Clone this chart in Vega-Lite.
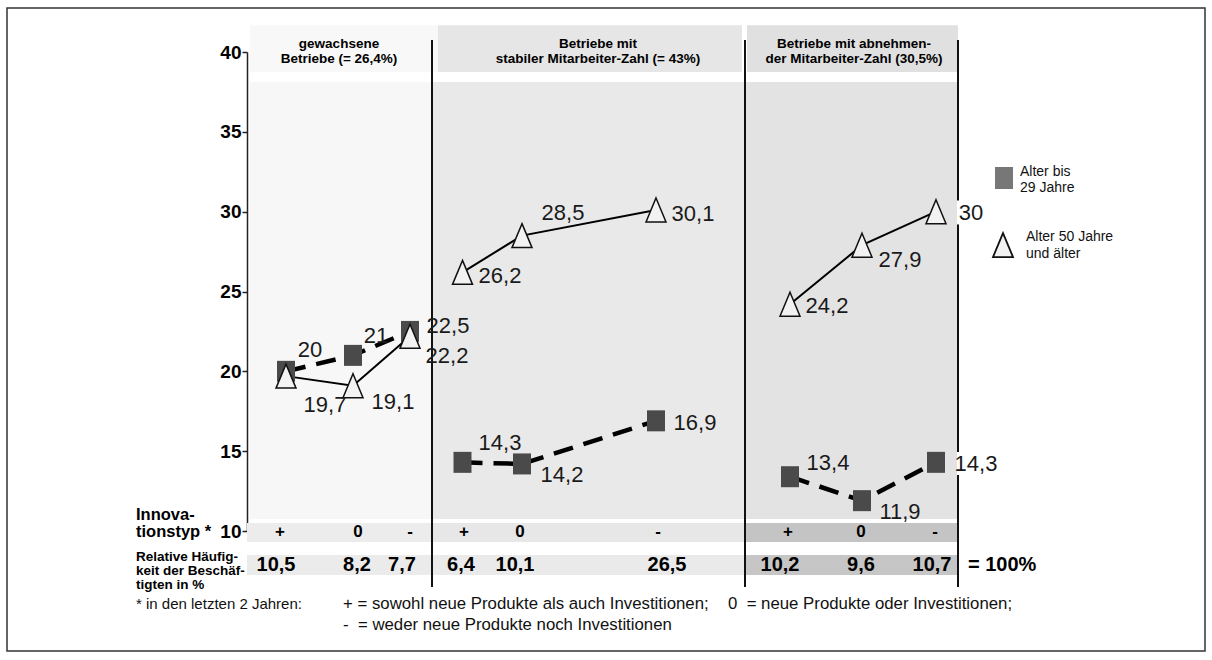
{
  "$schema": "https://vega.github.io/schema/vega-lite/v6.json",
  "width": 960,
  "height": 479,
  "autosize": {"type": "none"},
  "padding": {"left": 247, "top": 52, "right": 5, "bottom": 129},
  "background": "white",
  "config": {"view": {"stroke": null}, "font": "Liberation Sans"},
  "datasets": {
    "frame": [{"x0": -24, "x1": 95.8, "y0": 2.48, "y1": 42.76}],
    "boxes": [
      {"kind": "bg1", "x0": 0.3, "x1": 18.5, "y0": 10.75, "y1": 38.12},
      {"kind": "bg2", "x0": 18.5, "x1": 49.8, "y0": 10.75, "y1": 38.12},
      {"kind": "bg3", "x0": 49.8, "x1": 71.1, "y0": 10.75, "y1": 38.12},
      {"kind": "hd1", "x0": 0.3, "x1": 19.1, "y0": 38.74, "y1": 41.68},
      {"kind": "hd2", "x0": 19.1, "x1": 49.5, "y0": 38.74, "y1": 41.68},
      {"kind": "hd3", "x0": 50.0, "x1": 71.1, "y0": 38.74, "y1": 41.68},
      {"kind": "in1", "x0": 0.0, "x1": 18.5, "y0": 9.31, "y1": 10.5},
      {"kind": "in2", "x0": 18.5, "x1": 49.8, "y0": 9.31, "y1": 10.5},
      {"kind": "in3", "x0": 49.8, "x1": 71.1, "y0": 9.31, "y1": 10.5},
      {"kind": "fr1", "x0": 0.0, "x1": 18.5, "y0": 7.24, "y1": 8.5},
      {"kind": "fr2", "x0": 18.5, "x1": 49.8, "y0": 7.24, "y1": 8.5},
      {"kind": "fr3", "x0": 49.8, "x1": 71.1, "y0": 7.24, "y1": 8.5}
    ],
    "dividers": [{"x": 18.5}, {"x": 49.8}, {"x": 71.1}],
    "labelBg": [
      {"x0": 71.0, "x1": 73.9, "y0": 29.2, "y1": 30.7},
      {"x0": 71.0, "x1": 75.3, "y0": 13.5, "y1": 14.95}
    ],
    "pts": [
      {"panel": "A", "innov": "+", "g": "jung", "pos": 3.9, "value": 20, "label": "20", "lx": 6.3, "ly": 21.34},
      {"panel": "A", "innov": "0", "g": "jung", "pos": 10.6, "value": 21, "label": "21", "lx": 12.9, "ly": 22.21},
      {"panel": "A", "innov": "-", "g": "jung", "pos": 16.3, "value": 22.5, "label": "22,5", "lx": 20.1, "ly": 22.84},
      {"panel": "B", "innov": "+", "g": "jung", "pos": 21.55, "value": 14.3, "label": "14,3", "lx": 25.3, "ly": 15.51},
      {"panel": "B", "innov": "0", "g": "jung", "pos": 27.5, "value": 14.2, "label": "14,2", "lx": 31.5, "ly": 13.51},
      {"panel": "B", "innov": "-", "g": "jung", "pos": 40.9, "value": 16.9, "label": "16,9", "lx": 44.8, "ly": 16.76},
      {"panel": "C", "innov": "+", "g": "jung", "pos": 54.3, "value": 13.4, "label": "13,4", "lx": 58.1, "ly": 14.26},
      {"panel": "C", "innov": "0", "g": "jung", "pos": 61.5, "value": 11.9, "label": "11,9", "lx": 65.3, "ly": 11.19},
      {"panel": "C", "innov": "-", "g": "jung", "pos": 68.9, "value": 14.3, "label": "14,3", "lx": 72.9, "ly": 14.22},
      {"panel": "A", "innov": "+", "g": "alt", "pos": 3.9, "value": 19.7, "label": "19,7", "lx": 7.8, "ly": 17.89},
      {"panel": "A", "innov": "0", "g": "alt", "pos": 10.6, "value": 19.1, "label": "19,1", "lx": 14.6, "ly": 18.08},
      {"panel": "A", "innov": "-", "g": "alt", "pos": 16.3, "value": 22.2, "label": "22,2", "lx": 20.0, "ly": 20.96},
      {"panel": "B", "innov": "+", "g": "alt", "pos": 21.55, "value": 26.2, "label": "26,2", "lx": 25.3, "ly": 25.97},
      {"panel": "B", "innov": "0", "g": "alt", "pos": 27.5, "value": 28.5, "label": "28,5", "lx": 31.6, "ly": 29.92},
      {"panel": "B", "innov": "-", "g": "alt", "pos": 40.9, "value": 30.1, "label": "30,1", "lx": 44.6, "ly": 29.85},
      {"panel": "C", "innov": "+", "g": "alt", "pos": 54.3, "value": 24.2, "label": "24,2", "lx": 58.0, "ly": 24.09},
      {"panel": "C", "innov": "0", "g": "alt", "pos": 61.5, "value": 27.9, "label": "27,9", "lx": 65.3, "ly": 26.97},
      {"panel": "C", "innov": "-", "g": "alt", "pos": 68.9, "value": 30, "label": "30", "lx": 72.4, "ly": 29.92}
    ],
    "cols": [
      {"panel": "A", "innov": "+", "sx": 3.3, "fx": 2.9, "share": "10,5"},
      {"panel": "A", "innov": "0", "sx": 11.1, "fx": 11.0, "share": "8,2"},
      {"panel": "A", "innov": "-", "sx": 16.3, "fx": 15.5, "share": "7,7"},
      {"panel": "B", "innov": "+", "sx": 21.7, "fx": 21.4, "share": "6,4"},
      {"panel": "B", "innov": "0", "sx": 27.3, "fx": 26.8, "share": "10,1"},
      {"panel": "B", "innov": "-", "sx": 41.1, "fx": 42.0, "share": "26,5"},
      {"panel": "C", "innov": "+", "sx": 54.1, "fx": 53.3, "share": "10,2"},
      {"panel": "C", "innov": "0", "sx": 61.4, "fx": 61.4, "share": "9,6"},
      {"panel": "C", "innov": "-", "sx": 68.8, "fx": 68.5, "share": "10,7"}
    ],
    "headers": [
      {"x": 9.2, "y": 40.5, "t": "gewachsene"},
      {"x": 9.2, "y": 39.56, "t": "Betriebe (= 26,4%)"},
      {"x": 35.1, "y": 40.5, "t": "Betriebe mit"},
      {"x": 35.1, "y": 39.56, "t": "stabiler Mitarbeiter-Zahl (= 43%)"},
      {"x": 60.7, "y": 40.5, "t": "Betriebe mit abnehmen-"},
      {"x": 60.7, "y": 39.56, "t": "der Mitarbeiter-Zahl (30,5%)"}
    ],
    "leftBig": [
      {"x": -11.1, "y": 11.0, "t": "Innova-"},
      {"x": -11.1, "y": 9.94, "t": "tionstyp *"}
    ],
    "leftSmall": [
      {"x": -11.1, "y": 8.37, "t": "Relative Häufig-"},
      {"x": -11.1, "y": 7.5, "t": "keit der Beschäf-"},
      {"x": -11.1, "y": 6.62, "t": "tigten in %"}
    ],
    "footA": [
      {"x": -11.1, "y": 5.43, "t": "* in den letzten 2 Jahren:"}
    ],
    "footB": [
      {"x": 9.6, "y": 5.43, "t": "+ = sowohl neue Produkte als auch Investitionen;"},
      {"x": 48.1, "y": 5.43, "t": "0 \u00a0= neue Produkte oder Investitionen;"},
      {"x": 9.6, "y": 4.11, "t": "- \u00a0= weder neue Produkte noch Investitionen"}
    ],
    "legendSym": [
      {"x": 75.7, "y": 32.11, "g": "jung"},
      {"x": 75.6, "y": 27.91, "g": "alt"}
    ],
    "legendText": [
      {"x": 77.3, "y": 32.48, "t": "Alter bis"},
      {"x": 77.3, "y": 31.48, "t": "29 Jahre"},
      {"x": 77.9, "y": 28.41, "t": "Alter 50 Jahre"},
      {"x": 77.9, "y": 27.35, "t": "und älter"}
    ],
    "total": [{"x": 72.1, "y": 7.87, "t": "= 100%"}]
  },
  "layer": [
    {
      "data": {"name": "frame"},
      "mark": {"type": "rect", "filled": false, "stroke": "#333333", "strokeWidth": 1.5},
      "encoding": {
        "x": {"field": "x0", "type": "quantitative", "scale": {"domain": [0, 96], "nice": false, "zero": false}, "axis": null},
        "x2": {"field": "x1"},
        "y": {"field": "y0", "type": "quantitative", "scale": {"domain": [10, 40], "nice": false, "zero": false}, "axis": {"values": [10, 15, 20, 25, 30, 35, 40], "title": null, "grid": false, "labelFont": "Liberation Sans", "labelFontWeight": "bold", "labelFontSize": 19, "labelColor": "#000000", "domainColor": "#222222", "domainWidth": 1.5, "tickColor": "#222222", "tickWidth": 1.5, "tickSize": 5, "labelPadding": 1}},
        "y2": {"field": "y1"}
      }
    },
    {
      "data": {"name": "boxes"},
      "mark": {"type": "rect"},
      "encoding": {
        "x": {"field": "x0", "type": "quantitative", "scale": {"domain": [0, 96], "nice": false, "zero": false}, "axis": null},
        "x2": {"field": "x1"},
        "y": {"field": "y0", "type": "quantitative", "scale": {"domain": [10, 40], "nice": false, "zero": false}, "axis": {"values": [10, 15, 20, 25, 30, 35, 40], "title": null, "grid": false, "labelFont": "Liberation Sans", "labelFontWeight": "bold", "labelFontSize": 19, "labelColor": "#000000", "domainColor": "#222222", "domainWidth": 1.5, "tickColor": "#222222", "tickWidth": 1.5, "tickSize": 5, "labelPadding": 1}},
        "y2": {"field": "y1"},
        "color": {
          "field": "kind", "type": "nominal", "legend": null,
          "scale": {
            "domain": ["bg1", "bg2", "bg3", "hd1", "hd2", "hd3", "in1", "in2", "in3", "fr1", "fr2", "fr3"],
            "range": ["#f7f7f7", "#e9e9e9", "#e3e3e3", "#f8f8f8", "#e6e6e6", "#e0e0e0", "#ececec", "#e7e7e7", "#c4c4c4", "#ebebeb", "#eaeaea", "#c6c6c6"]
          }
        }
      }
    },
    {
      "data": {"name": "dividers"},
      "mark": {"type": "rule", "color": "#111111", "strokeWidth": 2},
      "encoding": {
        "x": {"field": "x", "type": "quantitative", "scale": {"domain": [0, 96], "nice": false, "zero": false}, "axis": null},
        "y": {"datum": 6.5, "type": "quantitative", "scale": {"domain": [10, 40], "nice": false, "zero": false}, "axis": {"values": [10, 15, 20, 25, 30, 35, 40], "title": null, "grid": false, "labelFont": "Liberation Sans", "labelFontWeight": "bold", "labelFontSize": 19, "labelColor": "#000000", "domainColor": "#222222", "domainWidth": 1.5, "tickColor": "#222222", "tickWidth": 1.5, "tickSize": 5, "labelPadding": 1}},
        "y2": {"datum": 40.75}
      }
    },
    {
      "data": {"name": "labelBg"},
      "mark": {"type": "rect", "color": "#ffffff"},
      "encoding": {
        "x": {"field": "x0", "type": "quantitative", "scale": {"domain": [0, 96], "nice": false, "zero": false}, "axis": null},
        "x2": {"field": "x1"},
        "y": {"field": "y0", "type": "quantitative", "scale": {"domain": [10, 40], "nice": false, "zero": false}, "axis": {"values": [10, 15, 20, 25, 30, 35, 40], "title": null, "grid": false, "labelFont": "Liberation Sans", "labelFontWeight": "bold", "labelFontSize": 19, "labelColor": "#000000", "domainColor": "#222222", "domainWidth": 1.5, "tickColor": "#222222", "tickWidth": 1.5, "tickSize": 5, "labelPadding": 1}},
        "y2": {"field": "y1"}
      }
    },
    {
      "data": {"name": "pts"},
      "transform": [{"filter": "datum.g == 'jung'"}],
      "mark": {"type": "line", "color": "#000000", "strokeWidth": 4.5, "strokeDash": [20, 11]},
      "encoding": {
        "x": {"field": "pos", "type": "quantitative", "scale": {"domain": [0, 96], "nice": false, "zero": false}, "axis": null},
        "y": {"field": "value", "type": "quantitative", "scale": {"domain": [10, 40], "nice": false, "zero": false}, "axis": {"values": [10, 15, 20, 25, 30, 35, 40], "title": null, "grid": false, "labelFont": "Liberation Sans", "labelFontWeight": "bold", "labelFontSize": 19, "labelColor": "#000000", "domainColor": "#222222", "domainWidth": 1.5, "tickColor": "#222222", "tickWidth": 1.5, "tickSize": 5, "labelPadding": 1}},
        "detail": {"field": "panel"}
      }
    },
    {
      "data": {"name": "pts"},
      "transform": [{"filter": "datum.g == 'alt'"}],
      "mark": {"type": "line", "color": "#000000", "strokeWidth": 2},
      "encoding": {
        "x": {"field": "pos", "type": "quantitative", "scale": {"domain": [0, 96], "nice": false, "zero": false}, "axis": null},
        "y": {"field": "value", "type": "quantitative", "scale": {"domain": [10, 40], "nice": false, "zero": false}, "axis": {"values": [10, 15, 20, 25, 30, 35, 40], "title": null, "grid": false, "labelFont": "Liberation Sans", "labelFontWeight": "bold", "labelFontSize": 19, "labelColor": "#000000", "domainColor": "#222222", "domainWidth": 1.5, "tickColor": "#222222", "tickWidth": 1.5, "tickSize": 5, "labelPadding": 1}},
        "detail": {"field": "panel"}
      }
    },
    {
      "data": {"name": "pts"},
      "transform": [{"filter": "datum.g == 'jung'"}],
      "mark": {"type": "point", "filled": true, "shape": "M-0.9,-1.05L0.9,-1.05L0.9,1.05L-0.9,1.05Z", "size": 400, "color": "#4a4a4a", "opacity": 1},
      "encoding": {
        "x": {"field": "pos", "type": "quantitative", "scale": {"domain": [0, 96], "nice": false, "zero": false}, "axis": null},
        "y": {"field": "value", "type": "quantitative", "scale": {"domain": [10, 40], "nice": false, "zero": false}, "axis": {"values": [10, 15, 20, 25, 30, 35, 40], "title": null, "grid": false, "labelFont": "Liberation Sans", "labelFontWeight": "bold", "labelFontSize": 19, "labelColor": "#000000", "domainColor": "#222222", "domainWidth": 1.5, "tickColor": "#222222", "tickWidth": 1.5, "tickSize": 5, "labelPadding": 1}}
      }
    },
    {
      "data": {"name": "pts"},
      "transform": [{"filter": "datum.g == 'alt'"}],
      "mark": {"type": "point", "shape": "M0,-1.2L1,1.2L-1,1.2Z", "size": 400, "fill": "#f2f2f2", "stroke": "#111111", "strokeWidth": 1.5, "opacity": 1, "fillOpacity": 1},
      "encoding": {
        "x": {"field": "pos", "type": "quantitative", "scale": {"domain": [0, 96], "nice": false, "zero": false}, "axis": null},
        "y": {"field": "value", "type": "quantitative", "scale": {"domain": [10, 40], "nice": false, "zero": false}, "axis": {"values": [10, 15, 20, 25, 30, 35, 40], "title": null, "grid": false, "labelFont": "Liberation Sans", "labelFontWeight": "bold", "labelFontSize": 19, "labelColor": "#000000", "domainColor": "#222222", "domainWidth": 1.5, "tickColor": "#222222", "tickWidth": 1.5, "tickSize": 5, "labelPadding": 1}}
      }
    },
    {
      "data": {"name": "pts"},
      "mark": {"type": "text", "font": "Liberation Sans", "fontSize": 22, "color": "#1a1a1a", "align": "center", "baseline": "middle"},
      "encoding": {
        "x": {"field": "lx", "type": "quantitative", "scale": {"domain": [0, 96], "nice": false, "zero": false}, "axis": null},
        "y": {"field": "ly", "type": "quantitative", "scale": {"domain": [10, 40], "nice": false, "zero": false}, "axis": {"values": [10, 15, 20, 25, 30, 35, 40], "title": null, "grid": false, "labelFont": "Liberation Sans", "labelFontWeight": "bold", "labelFontSize": 19, "labelColor": "#000000", "domainColor": "#222222", "domainWidth": 1.5, "tickColor": "#222222", "tickWidth": 1.5, "tickSize": 5, "labelPadding": 1}},
        "text": {"field": "label"}
      }
    },
    {
      "data": {"name": "cols"},
      "mark": {"type": "text", "font": "Liberation Sans", "fontSize": 17, "fontWeight": "bold", "color": "#000000", "align": "center", "baseline": "middle"},
      "encoding": {
        "x": {"field": "sx", "type": "quantitative", "scale": {"domain": [0, 96], "nice": false, "zero": false}, "axis": null},
        "y": {"datum": 9.94, "type": "quantitative", "scale": {"domain": [10, 40], "nice": false, "zero": false}, "axis": {"values": [10, 15, 20, 25, 30, 35, 40], "title": null, "grid": false, "labelFont": "Liberation Sans", "labelFontWeight": "bold", "labelFontSize": 19, "labelColor": "#000000", "domainColor": "#222222", "domainWidth": 1.5, "tickColor": "#222222", "tickWidth": 1.5, "tickSize": 5, "labelPadding": 1}},
        "text": {"field": "innov"}
      }
    },
    {
      "data": {"name": "cols"},
      "mark": {"type": "text", "font": "Liberation Sans", "fontSize": 20, "fontWeight": "bold", "color": "#000000", "align": "center", "baseline": "middle"},
      "encoding": {
        "x": {"field": "fx", "type": "quantitative", "scale": {"domain": [0, 96], "nice": false, "zero": false}, "axis": null},
        "y": {"datum": 7.87, "type": "quantitative", "scale": {"domain": [10, 40], "nice": false, "zero": false}, "axis": {"values": [10, 15, 20, 25, 30, 35, 40], "title": null, "grid": false, "labelFont": "Liberation Sans", "labelFontWeight": "bold", "labelFontSize": 19, "labelColor": "#000000", "domainColor": "#222222", "domainWidth": 1.5, "tickColor": "#222222", "tickWidth": 1.5, "tickSize": 5, "labelPadding": 1}},
        "text": {"field": "share"}
      }
    },
    {
      "data": {"name": "total"},
      "mark": {"type": "text", "font": "Liberation Sans", "fontSize": 20, "fontWeight": "bold", "color": "#000000", "align": "left", "baseline": "middle"},
      "encoding": {
        "x": {"field": "x", "type": "quantitative", "scale": {"domain": [0, 96], "nice": false, "zero": false}, "axis": null},
        "y": {"field": "y", "type": "quantitative", "scale": {"domain": [10, 40], "nice": false, "zero": false}, "axis": {"values": [10, 15, 20, 25, 30, 35, 40], "title": null, "grid": false, "labelFont": "Liberation Sans", "labelFontWeight": "bold", "labelFontSize": 19, "labelColor": "#000000", "domainColor": "#222222", "domainWidth": 1.5, "tickColor": "#222222", "tickWidth": 1.5, "tickSize": 5, "labelPadding": 1}},
        "text": {"field": "t"}
      }
    },
    {
      "data": {"name": "headers"},
      "mark": {"type": "text", "font": "Liberation Sans", "fontSize": 13.5, "fontWeight": "bold", "color": "#000000", "align": "center", "baseline": "middle"},
      "encoding": {
        "x": {"field": "x", "type": "quantitative", "scale": {"domain": [0, 96], "nice": false, "zero": false}, "axis": null},
        "y": {"field": "y", "type": "quantitative", "scale": {"domain": [10, 40], "nice": false, "zero": false}, "axis": {"values": [10, 15, 20, 25, 30, 35, 40], "title": null, "grid": false, "labelFont": "Liberation Sans", "labelFontWeight": "bold", "labelFontSize": 19, "labelColor": "#000000", "domainColor": "#222222", "domainWidth": 1.5, "tickColor": "#222222", "tickWidth": 1.5, "tickSize": 5, "labelPadding": 1}},
        "text": {"field": "t"}
      }
    },
    {
      "data": {"name": "leftBig"},
      "mark": {"type": "text", "font": "Liberation Sans", "fontSize": 16.5, "fontWeight": "bold", "color": "#000000", "align": "left", "baseline": "middle"},
      "encoding": {
        "x": {"field": "x", "type": "quantitative", "scale": {"domain": [0, 96], "nice": false, "zero": false}, "axis": null},
        "y": {"field": "y", "type": "quantitative", "scale": {"domain": [10, 40], "nice": false, "zero": false}, "axis": {"values": [10, 15, 20, 25, 30, 35, 40], "title": null, "grid": false, "labelFont": "Liberation Sans", "labelFontWeight": "bold", "labelFontSize": 19, "labelColor": "#000000", "domainColor": "#222222", "domainWidth": 1.5, "tickColor": "#222222", "tickWidth": 1.5, "tickSize": 5, "labelPadding": 1}},
        "text": {"field": "t"}
      }
    },
    {
      "data": {"name": "leftSmall"},
      "mark": {"type": "text", "font": "Liberation Sans", "fontSize": 13.5, "fontWeight": "bold", "color": "#000000", "align": "left", "baseline": "middle"},
      "encoding": {
        "x": {"field": "x", "type": "quantitative", "scale": {"domain": [0, 96], "nice": false, "zero": false}, "axis": null},
        "y": {"field": "y", "type": "quantitative", "scale": {"domain": [10, 40], "nice": false, "zero": false}, "axis": {"values": [10, 15, 20, 25, 30, 35, 40], "title": null, "grid": false, "labelFont": "Liberation Sans", "labelFontWeight": "bold", "labelFontSize": 19, "labelColor": "#000000", "domainColor": "#222222", "domainWidth": 1.5, "tickColor": "#222222", "tickWidth": 1.5, "tickSize": 5, "labelPadding": 1}},
        "text": {"field": "t"}
      }
    },
    {
      "data": {"name": "footA"},
      "mark": {"type": "text", "font": "Liberation Sans", "fontSize": 15, "color": "#111111", "align": "left", "baseline": "middle"},
      "encoding": {
        "x": {"field": "x", "type": "quantitative", "scale": {"domain": [0, 96], "nice": false, "zero": false}, "axis": null},
        "y": {"field": "y", "type": "quantitative", "scale": {"domain": [10, 40], "nice": false, "zero": false}, "axis": {"values": [10, 15, 20, 25, 30, 35, 40], "title": null, "grid": false, "labelFont": "Liberation Sans", "labelFontWeight": "bold", "labelFontSize": 19, "labelColor": "#000000", "domainColor": "#222222", "domainWidth": 1.5, "tickColor": "#222222", "tickWidth": 1.5, "tickSize": 5, "labelPadding": 1}},
        "text": {"field": "t"}
      }
    },
    {
      "data": {"name": "footB"},
      "mark": {"type": "text", "font": "Liberation Sans", "fontSize": 16.8, "color": "#111111", "align": "left", "baseline": "middle"},
      "encoding": {
        "x": {"field": "x", "type": "quantitative", "scale": {"domain": [0, 96], "nice": false, "zero": false}, "axis": null},
        "y": {"field": "y", "type": "quantitative", "scale": {"domain": [10, 40], "nice": false, "zero": false}, "axis": {"values": [10, 15, 20, 25, 30, 35, 40], "title": null, "grid": false, "labelFont": "Liberation Sans", "labelFontWeight": "bold", "labelFontSize": 19, "labelColor": "#000000", "domainColor": "#222222", "domainWidth": 1.5, "tickColor": "#222222", "tickWidth": 1.5, "tickSize": 5, "labelPadding": 1}},
        "text": {"field": "t"}
      }
    },
    {
      "data": {"name": "legendSym"},
      "transform": [{"filter": "datum.g == 'jung'"}],
      "mark": {"type": "point", "filled": true, "shape": "M-0.9,-1.1L0.9,-1.1L0.9,1.1L-0.9,1.1Z", "size": 400, "color": "#777777", "opacity": 1},
      "encoding": {
        "x": {"field": "x", "type": "quantitative", "scale": {"domain": [0, 96], "nice": false, "zero": false}, "axis": null},
        "y": {"field": "y", "type": "quantitative", "scale": {"domain": [10, 40], "nice": false, "zero": false}, "axis": {"values": [10, 15, 20, 25, 30, 35, 40], "title": null, "grid": false, "labelFont": "Liberation Sans", "labelFontWeight": "bold", "labelFontSize": 19, "labelColor": "#000000", "domainColor": "#222222", "domainWidth": 1.5, "tickColor": "#222222", "tickWidth": 1.5, "tickSize": 5, "labelPadding": 1}}
      }
    },
    {
      "data": {"name": "legendSym"},
      "transform": [{"filter": "datum.g == 'alt'"}],
      "mark": {"type": "point", "shape": "M0,-1.2L1,1.2L-1,1.2Z", "size": 400, "fill": "#f2f2f2", "stroke": "#111111", "strokeWidth": 1.8, "opacity": 1, "fillOpacity": 1},
      "encoding": {
        "x": {"field": "x", "type": "quantitative", "scale": {"domain": [0, 96], "nice": false, "zero": false}, "axis": null},
        "y": {"field": "y", "type": "quantitative", "scale": {"domain": [10, 40], "nice": false, "zero": false}, "axis": {"values": [10, 15, 20, 25, 30, 35, 40], "title": null, "grid": false, "labelFont": "Liberation Sans", "labelFontWeight": "bold", "labelFontSize": 19, "labelColor": "#000000", "domainColor": "#222222", "domainWidth": 1.5, "tickColor": "#222222", "tickWidth": 1.5, "tickSize": 5, "labelPadding": 1}}
      }
    },
    {
      "data": {"name": "legendText"},
      "mark": {"type": "text", "font": "Liberation Sans", "fontSize": 14, "color": "#111111", "align": "left", "baseline": "middle"},
      "encoding": {
        "x": {"field": "x", "type": "quantitative", "scale": {"domain": [0, 96], "nice": false, "zero": false}, "axis": null},
        "y": {"field": "y", "type": "quantitative", "scale": {"domain": [10, 40], "nice": false, "zero": false}, "axis": {"values": [10, 15, 20, 25, 30, 35, 40], "title": null, "grid": false, "labelFont": "Liberation Sans", "labelFontWeight": "bold", "labelFontSize": 19, "labelColor": "#000000", "domainColor": "#222222", "domainWidth": 1.5, "tickColor": "#222222", "tickWidth": 1.5, "tickSize": 5, "labelPadding": 1}},
        "text": {"field": "t"}
      }
    }
  ]
}
